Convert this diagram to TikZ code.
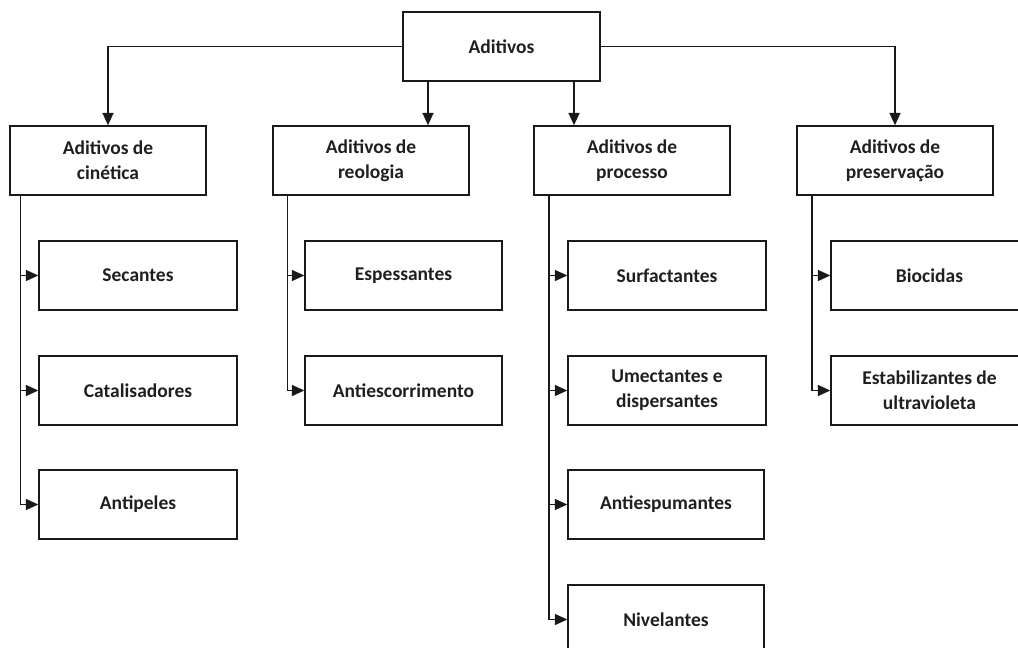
\documentclass[tikz,border=0pt]{standalone}
\usepackage{fontspec}
\setmainfont{Carlito}
\usetikzlibrary{arrows.meta}
\begin{document}
\begin{tikzpicture}[x=1pt,y=-1pt,
  box/.style={draw=black!90,line width=1.4pt,minimum width=197pt,minimum height=69pt,
    inner sep=0pt,align=center,font=\fontsize{19.5}{25}\selectfont\bfseries,text=black!88},
  conn/.style={draw=black!90,line width=1.6pt,-{Triangle[length=12.5pt,width=11pt]}}]
\useasboundingbox (0,0) rectangle (1018,648);
\clip (0,0) rectangle (1018,648);
\node[box] (top) at (501.5,46.5) {Aditivos};
\node[box,minimum width=196pt] (cin) at (108,160.5) {Aditivos de\\cinética};
\node[box,minimum width=196pt] (reo) at (371,160.5) {Aditivos de\\reologia};
\node[box,minimum width=196pt] (pro) at (632,160.5) {Aditivos de\\processo};
\node[box,minimum width=196pt] (pre) at (895,160.5) {Aditivos de\\preservação};
\node[box,minimum width=198pt] (sec) at (138,275.5) {Secantes};
\node[box,minimum width=198pt] (cat) at (138,390.5) {Catalisadores};
\node[box,minimum width=198pt] (ant) at (138,504.5) {Antipeles};
\node[box] (esp) at (403.5,275.5) {Espessantes};
\node[box] (aes) at (403.5,390.5) {Antiescorrimento};
\node[box,minimum width=198pt] (sur) at (667,275.5) {Surfactantes};
\node[box,minimum width=198pt] (ume) at (667,390.5) {Umectantes e\\dispersantes};
\node[box,minimum width=196pt] (asp) at (666,504.5) {Antiespumantes};
\node[box,minimum width=196pt] (niv) at (666,619.5) {Nivelantes};
\node[box] (bio) at (929.5,275.5) {Biocidas};
\node[box] (est) at (929.5,390.5) {Estabilizantes de\\ultravioleta};
% top connectors
\draw[conn] (top.west) -| (cin.north);
\draw[conn] (top.east) -| (pre.north);
\draw[conn] ([xshift=-73.5pt]top.south) -- ([xshift=57pt]reo.north);
\draw[conn] ([xshift=72.5pt]top.south) -- ([xshift=-58pt]pro.north);
% spines
\draw[conn] ([xshift=11pt]cin.south west) |- (sec.west);
\draw[conn] ([xshift=11pt]cin.south west) |- (cat.west);
\draw[conn] ([xshift=11pt]cin.south west) |- (ant.west);
\draw[conn] ([xshift=15pt]reo.south west) |- (esp.west);
\draw[conn] ([xshift=15pt]reo.south west) |- (aes.west);
\draw[conn] ([xshift=15.7pt]pro.south west) |- (sur.west);
\draw[conn] ([xshift=15.7pt]pro.south west) |- (ume.west);
\draw[conn] ([xshift=15.7pt]pro.south west) |- (asp.west);
\draw[conn] ([xshift=15.7pt]pro.south west) |- (niv.west);
\draw[conn] ([xshift=15.7pt]pre.south west) |- (bio.west);
\draw[conn] ([xshift=15.7pt]pre.south west) |- (est.west);
\end{tikzpicture}
\end{document}
